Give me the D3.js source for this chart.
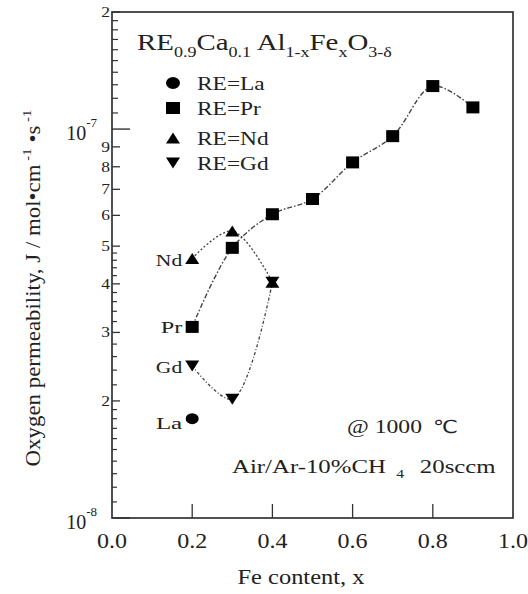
<!DOCTYPE html>
<html><head><meta charset="utf-8">
<script src="https://cdn.jsdelivr.net/npm/d3@7"></script>
<style>body{margin:0;background:#fff} svg{display:block}</style>
</head><body><svg id="c" width="528" height="594"></svg>
<script>
// ---------- data ----------
const xLa = [0.2];
const yLa = [1.80e-8];
const xPr = [0.2, 0.3, 0.4, 0.5, 0.6, 0.7, 0.8, 0.9];
const yPr = [3.10e-8, 4.95e-8, 6.04e-8, 6.61e-8, 8.21e-8, 9.59e-8, 1.29e-7, 1.137e-7];
const xNd = [0.2, 0.3, 0.4];
const yNd = [4.65e-8, 5.47e-8, 4.04e-8];
const xGd = [0.2, 0.3, 0.4];
const yGd = [2.46e-8, 2.02e-8, 4.04e-8];
const seriesNames = ["La", "Pr", "Nd", "Gd"];
const legendNames = ["RE=La", "RE=Pr", "RE=Nd", "RE=Gd"];
const xTicks = [0.0, 0.2, 0.4, 0.6, 0.8, 1.0];
const xTickLabels = ["0.0", "0.2", "0.4", "0.6", "0.8", "1.0"];
const yDecadeTicks = [1e-8, 1e-7];
const yDecadeExp = ["-8", "-7"];
const yMinorTicks = [2e-8, 3e-8, 4e-8, 5e-8, 6e-8, 7e-8, 8e-8, 9e-8, 2e-7];
const yMinorLabels = ["2", "3", "4", "5", "6", "7", "8", "9", "2"];
const ySmallTicks = [1.1e-8, 1.2e-8, 1.3e-8, 1.4e-8, 1.5e-8, 1.6e-8, 1.7e-8, 1.8e-8, 1.9e-8,
  2.2e-8, 2.4e-8, 2.6e-8, 2.8e-8, 3.2e-8, 3.4e-8, 3.6e-8, 3.8e-8,
  4.2e-8, 4.4e-8, 4.6e-8, 4.8e-8,
  1.1e-7, 1.2e-7, 1.3e-7, 1.4e-7, 1.5e-7, 1.6e-7, 1.7e-7, 1.8e-7, 1.9e-7];

// ---------- layout ----------
const L = 112, R = 513, T = 12, B = 518;
const FONT = "'Liberation Serif','Times New Roman',serif";
const INK = "#222";
const svg = d3.select("#c");
const x = d3.scaleLinear().domain([0, 1]).range([L, R]);
const y = d3.scaleLog().domain([1e-8, 2e-7]).range([B, T]);

function txt(x0, y0, anchor, size, build, targetW, rot, sx) {
  const g = svg.append("g").attr("transform", `translate(${x0},${y0})` + (rot ? ` rotate(${rot})` : ""));
  const t = g.append("text").attr("text-anchor", anchor).attr("font-size", size)
    .attr("font-family", FONT).attr("fill", INK);
  build(t);
  if (targetW) {
    const w = t.node().getBBox().width;
    t.attr("transform", `scale(${targetW / w},1)`);
  } else if (sx) {
    t.attr("transform", `scale(${sx},1)`);
  }
  return t;
}

// ---------- frame ----------
svg.append("rect").attr("x", L).attr("y", T).attr("width", R - L).attr("height", B - T)
  .attr("fill", "none").attr("stroke", "#333").attr("stroke-width", 1.7);

// ---------- x axis ticks (inside) ----------
svg.append("g").selectAll("line").data(xTicks.slice(1, -1)).join("line")
  .attr("x1", d => x(d)).attr("x2", d => x(d)).attr("y1", B).attr("y2", B - 14)
  .attr("stroke", "#333").attr("stroke-width", 1.3);
xTicks.forEach((v, i) => {
  txt(x(v), 548, "middle", 20, t => t.text(xTickLabels[i]), 30);
});

// ---------- y axis ticks ----------
svg.append("g").selectAll("line").data(yDecadeTicks).join("line")
  .attr("x1", L).attr("x2", L + 18).attr("y1", d => y(d)).attr("y2", d => y(d))
  .attr("stroke", "#333").attr("stroke-width", 1.4);
svg.append("g").selectAll("line").data(yMinorTicks).join("line")
  .attr("x1", L).attr("x2", L + 8).attr("y1", d => y(d)).attr("y2", d => y(d))
  .attr("stroke", "#333").attr("stroke-width", 1.3);
svg.append("g").selectAll("line").data(ySmallTicks).join("line")
  .attr("x1", L).attr("x2", d => L + (d > 1e-7 ? 6 : 5)).attr("y1", d => y(d)).attr("y2", d => y(d))
  .attr("stroke", "#333").attr("stroke-width", 1.2);
yMinorTicks.forEach((v, i) => {
  txt(110, y(v) + 5, "end", 14, t => t.text(yMinorLabels[i]), null, null, 1.25);
});
yDecadeTicks.forEach((v, i) => {
  txt(97, y(v) + 11, "end", 20, t => {
    t.append("tspan").text("10");
    t.append("tspan").attr("font-size", 13).attr("dy", -13).text(yDecadeExp[i]);
  });
});

// ---------- axis titles ----------
txt(301, 584, "middle", 20, t => t.text("Fe content, x"), 127);
txt(40, 288, "middle", 20, t => {
  t.append("tspan").text("Oxygen permeability, J / mol\u2022cm");
  t.append("tspan").attr("font-size", 13).attr("dy", -9).text(" -1");
  t.append("tspan").attr("dy", 9).text(" \u2022s");
  t.append("tspan").attr("font-size", 13).attr("dy", -9).text(" -1");
}, 357, -90);

// ---------- title ----------
txt(137, 50, "start", 24, t => {
  const sub = s => t.append("tspan").attr("font-size", 15).attr("dy", 7).text(s);
  const main = s => t.append("tspan").attr("dy", -7).text(s);
  t.append("tspan").text("RE"); sub("0.9");
  main("Ca"); sub("0.1");
  main(" Al"); sub("1-x");
  main("Fe"); sub("x");
  main("O"); sub("3-\u03b4");
}, 255);

// ---------- markers ----------
function marker(g, type, cx, cy, w, h) {
  if (type === "La") {
    g.append("ellipse").attr("cx", cx).attr("cy", cy).attr("rx", w / 2).attr("ry", h / 2).attr("fill", "#000");
  } else if (type === "Pr") {
    g.append("rect").attr("x", cx - w / 2).attr("y", cy - h / 2).attr("width", w).attr("height", h).attr("fill", "#000");
  } else if (type === "Nd") {
    g.append("path").attr("d", `M${cx},${cy - h / 2}L${cx + w / 2},${cy + h / 2}L${cx - w / 2},${cy + h / 2}Z`).attr("fill", "#000");
  } else {
    g.append("path").attr("d", `M${cx},${cy + h / 2}L${cx + w / 2},${cy - h / 2}L${cx - w / 2},${cy - h / 2}Z`).attr("fill", "#000");
  }
}

// ---------- lines ----------
const line = d3.line().x(d => x(d[0])).y(d => y(d[1])).curve(d3.curveCatmullRom.alpha(0.5));
const zip = (a, b) => a.map((v, i) => [v, b[i]]);
svg.append("path").attr("d", line(zip(xPr, yPr))).attr("fill", "none")
  .attr("stroke", "#444").attr("stroke-width", 1.4).attr("stroke-dasharray", "5,2,1.5,2");
svg.append("path").attr("d", line(zip(xNd, yNd))).attr("fill", "none")
  .attr("stroke", "#444").attr("stroke-width", 1.3).attr("stroke-dasharray", "2,2");
svg.append("path").attr("d", line(zip(xGd, yGd))).attr("fill", "none")
  .attr("stroke", "#444").attr("stroke-width", 1.3).attr("stroke-dasharray", "3,2,1,2");

const mg = svg.append("g");
xLa.forEach((v, i) => marker(mg, "La", x(v), y(yLa[i]), 13, 11));
xPr.forEach((v, i) => marker(mg, "Pr", x(v), y(yPr[i]), 13, 12));
xNd.forEach((v, i) => marker(mg, "Nd", x(v), y(yNd[i]), 14, 11));
xGd.forEach((v, i) => marker(mg, "Gd", x(v), y(yGd[i]), 14, 11));

// ---------- point labels ----------
const firstVals = {La: yLa[0], Pr: yPr[0], Nd: yNd[0], Gd: yGd[0]};
const labelDy = {La: 10, Pr: 6, Nd: 8, Gd: 7};
seriesNames.forEach(n => {
  txt(x(0.2) - 10, y(firstVals[n]) + labelDy[n], "end", 17, t => t.text(n), n === "Pr" ? 22 : 27);
});

// ---------- legend ----------
const legY = [83, 108, 138, 163];
const lg = svg.append("g");
seriesNames.forEach((n, i) => {
  marker(lg, n, 173, legY[i], 14, n === "La" || n === "Pr" ? 12 : 11);
  txt(197, legY[i] + 7, "start", 18, t => t.text(legendNames[i]), null, null, 1.3);
});

// ---------- annotations ----------
txt(347, 433, "start", 19, t => t.text("@ 1000"), 75);
txt(433, 433, "start", 18, t => t.attr("font-family", "'DejaVu Sans',sans-serif").text("\u2103"), 25);
txt(232, 473, "start", 19, t => {
  t.append("tspan").text("Air/Ar-10%CH");
  t.append("tspan").attr("font-size", 12).attr("dx", 8).attr("dy", 5).text("4");
  t.append("tspan").attr("dx", 12).attr("dy", -5).text("20sccm");
}, 264);
</script></body></html>
